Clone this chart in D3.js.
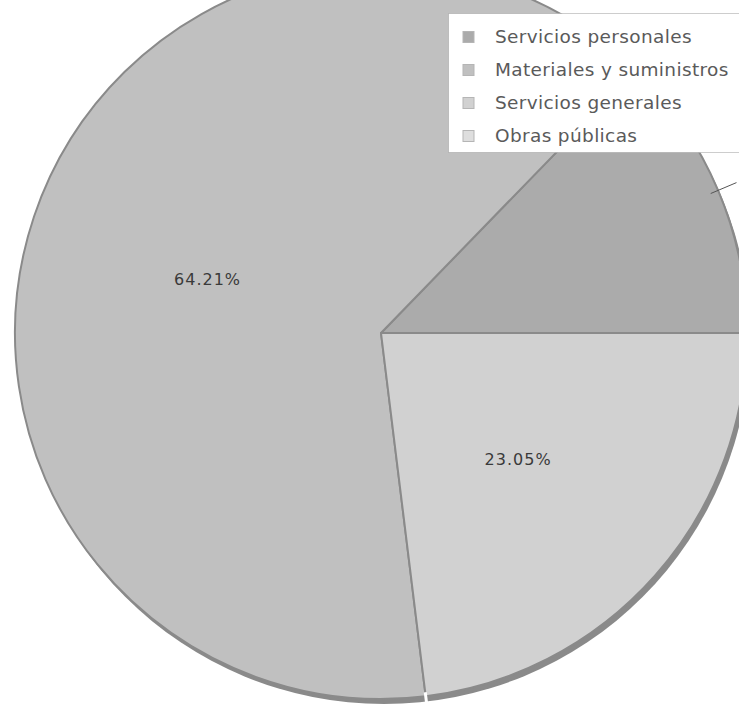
<!DOCTYPE html>
<html>
<head>
<meta charset="utf-8">
<title>Pie</title>
<script src="https://d3js.org/d3.v7.min.js"></script>
<style>
  body { margin: 0; background: #fff; }
  svg { display: block; }
  .lbl { font-family: "DejaVu Sans", sans-serif; font-size: 16px; fill: #3a3a3a; letter-spacing: 1px; }
  .leg text { font-family: "DejaVu Sans", sans-serif; font-size: 18.5px; fill: #5a5a5a; letter-spacing: 0.35px; }
</style>
</head>
<body>
<script>
  // categories and shares (%)
  var categories = ["Servicios personales", "Materiales y suministros", "Servicios generales", "Obras públicas"];
  var values = [12.74, 64.21, 23.05, 0];
  var shown = ["", "64.21%", "23.05%", ""];

  var W = 739, H = 705;
  var cx = 381, cy = 333, r = 366;

  var color = d3.scaleOrdinal()
      .domain(categories)
      .range(["#ababab", "#c0c0c0", "#d1d1d1", "#dedede"]);

  var svg = d3.select("body").append("svg")
      .attr("width", W)
      .attr("height", H);

  // slices run counter-clockwise from 3 o'clock
  var pie = d3.pie()
      .sort(null)
      .value(function(d) { return d; })
      .startAngle(Math.PI / 2)
      .endAngle(Math.PI / 2 - 2 * Math.PI);

  var arcs = pie(values);
  var arc = d3.arc().innerRadius(0).outerRadius(r);
  var labelArc = d3.arc().innerRadius(r * 0.5).outerRadius(r * 0.5);

  var g = svg.append("g").attr("transform", "translate(" + cx + "," + cy + ")");

  // shadow rim
  g.append("circle")
      .attr("cx", 3).attr("cy", 5)
      .attr("r", r)
      .attr("fill", "#8a8a8a");

  g.selectAll("path.slice")
      .data(arcs.filter(function(d) { return d.value > 0; }))
      .enter().append("path")
      .attr("class", "slice")
      .attr("d", arc)
      .attr("fill", function(d) { return color(categories[d.index]); })
      .attr("stroke", "#8a8a8a")
      .attr("stroke-width", 2)
      .attr("stroke-linejoin", "round");

  // small white gap where slices meet at the rim
  g.selectAll("line.gap")
      .data(arcs.filter(function(d) { return d.value > 0; }))
      .enter().append("line")
      .attr("x1", function(d) { return Math.sin(d.startAngle) * (r - 4); })
      .attr("y1", function(d) { return -Math.cos(d.startAngle) * (r - 4); })
      .attr("x2", function(d) { return Math.sin(d.startAngle) * (r + 8); })
      .attr("y2", function(d) { return -Math.cos(d.startAngle) * (r + 8); })
      .attr("stroke", "#fff")
      .attr("stroke-width", 3);

  // leader line for the first slice (its label falls outside the frame)
  var a0 = (arcs[0].startAngle + arcs[0].endAngle) / 2;
  g.append("line")
      .attr("x1", Math.sin(a0) * (r - 8))
      .attr("y1", -Math.cos(a0) * (r - 8))
      .attr("x2", Math.sin(a0) * (r + 20))
      .attr("y2", -Math.cos(a0) * (r + 20))
      .attr("stroke", "#555")
      .attr("stroke-width", 1);

  g.selectAll("text.lbl")
      .data(arcs)
      .enter().append("text")
      .attr("class", "lbl")
      .attr("transform", function(d) { return "translate(" + labelArc.centroid(d) + ")"; })
      .attr("text-anchor", "middle")
      .attr("dy", "0.65em")
      .text(function(d, i) { return shown[i]; });

  // legend
  var leg = svg.append("g").attr("class", "leg");
  leg.append("rect")
      .attr("x", 448.5).attr("y", 13.5)
      .attr("width", 300).attr("height", 139)
      .attr("fill", "#fff")
      .attr("stroke", "#9a9a9a")
      .attr("stroke-dasharray", "1,1");

  var y = d3.scalePoint().domain(categories).range([37, 136]);

  var row = leg.selectAll("g.row")
      .data(categories)
      .enter().append("g")
      .attr("transform", function(d) { return "translate(0," + y(d) + ")"; });

  row.append("rect")
      .attr("x", 463).attr("y", -5.5)
      .attr("width", 11).attr("height", 11)
      .attr("fill", function(d) { return color(d); })
      .attr("stroke", "#b5b5b5")
      .attr("stroke-width", 1);

  row.append("text")
      .attr("x", 495)
      .attr("dy", "0.35em")
      .text(function(d) { return d; });
</script>
</body>
</html>
